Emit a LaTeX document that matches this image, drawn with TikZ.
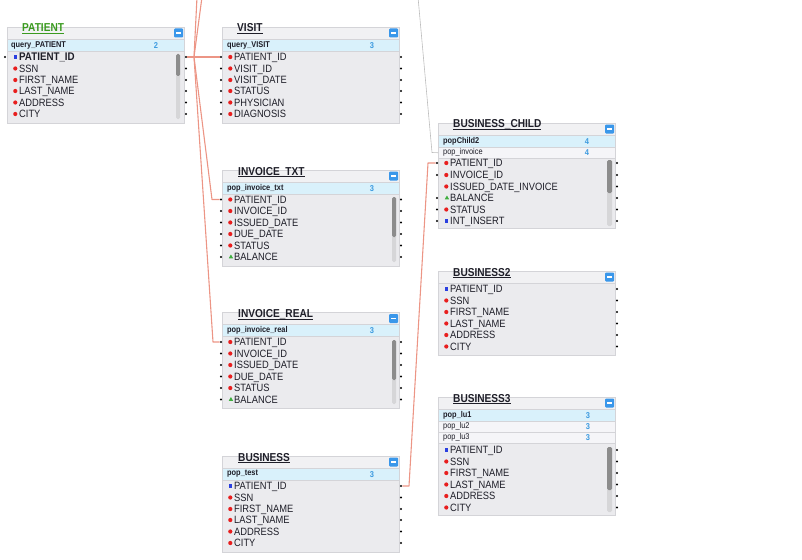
\documentclass[tikz,border=0pt]{standalone}
\usepackage{fontspec}
\setmainfont{Liberation Sans}[FakeStretch=0.88]
\usetikzlibrary{shapes.geometric}

\definecolor{boxline}{HTML}{D4D4D8}
\definecolor{bodybg}{HTML}{EBEBEE}
\definecolor{headbg}{HTML}{F1F1F3}
\definecolor{qblue}{HTML}{D9F1FB}
\definecolor{qwhite}{HTML}{F5F5F8}
\definecolor{txt}{HTML}{1E1E28}
\definecolor{cntblue}{HTML}{3D9BE0}
\definecolor{btnblue}{HTML}{3A97EA}
\definecolor{linkred}{HTML}{EC9585}
\definecolor{linkgray}{HTML}{BDBDBD}
\definecolor{dotred}{HTML}{E81E1E}
\definecolor{pkblue}{HTML}{2A3FE0}
\definecolor{trigreen}{HTML}{3FAE3F}
\definecolor{ptgreen}{HTML}{3A9A1F}
\definecolor{trackgray}{HTML}{D6D6D8}
\definecolor{thumbgray}{HTML}{8C8C8C}

\begin{document}
\begin{tikzpicture}[
	x=1pt, y=-1pt,
	tbl/.style={draw=boxline, fill=bodybg, rectangle, anchor=north west, minimum width=177pt, inner sep=0pt, line width=0.5pt},
	headrow/.style={draw=boxline, fill=headbg, rectangle, anchor=north west, minimum width=177pt, minimum height=12pt, inner sep=0pt, line width=0.5pt},
	qrow/.style={headrow, fill=qblue},
	qrow2/.style={headrow, fill=qwhite, minimum height=11pt},
	ttl/.style={anchor=west, inner sep=0pt, font=\fontsize{11.5}{13}\selectfont\bfseries, text=txt},
	qry/.style={anchor=west, inner sep=0pt, font=\fontsize{8.4}{10}\selectfont\bfseries, text=txt},
	qry2/.style={qry, font=\fontsize{8.4}{10}\selectfont},
	cnt/.style={inner sep=0pt, font=\fontsize{8.5}{10}\selectfont\bfseries, text=cntblue},
	btn/.style={fill=btnblue, rectangle, minimum width=9pt, minimum height=9pt, inner sep=0pt, rounded corners=1pt},
	fld/.style={anchor=west, inner sep=0pt, font=\fontsize{10.6}{12}\selectfont, text=txt, text height=7.6pt, text depth=0pt},
	rd/.style={fld, label={[reddot]left:{}}},
	pk/.style={fld, label={[pkmark]left:{}}},
	gr/.style={fld, label={[grmark]left:{}}},
	reddot/.style={circle, fill=dotred, minimum size=4.2pt, inner sep=0pt},
	pkmark/.style={rectangle, fill=pkblue, minimum size=3.8pt, inner sep=0pt},
	grmark/.style={regular polygon, regular polygon sides=3, fill=trigreen, minimum size=5pt, inner sep=0pt},
	jdot/.style={circle, fill=black, minimum size=2.2pt, inner sep=0pt},
	label distance=1.4pt
	]
	
	\useasboundingbox (0,0) rectangle (802,559);
	
	%-----------------------
	% PATIENT (top left)
	%-----------------------
	\node[tbl, minimum height=96pt] (patient) at (7,27) {};
	\node[headrow] (patientH) at (7,27) {};
	\node[qrow] (patientQ) at (7,39) {};
	\node[ttl, text=ptgreen] (patientT) at (22,33) {\underline{\smash{PATIENT}}};
	\node[btn] (patientB) at (178.5,33) {\textcolor{white}{\rule{5pt}{1.3pt}}};
	\node[qry] (patientQL) at (11,45) {query\_PATIENT};
	\node[cnt] (patientN) at (156,45.5) {2};
	\fill[trackgray, rounded corners=1.5pt] (176,54) rectangle (180,119);
	\fill[thumbgray, rounded corners=1.5pt] (176,54) rectangle (180,76);
	
	\node[pk, font=\fontsize{11.1}{13}\selectfont\bfseries] (P1) at (19,57) {PATIENT\_ID};
	\node[rd] (P2) at (19,68.5) {SSN};
	\node[rd] (P3) at (19,80) {FIRST\_NAME};
	\node[rd] (P4) at (19,91) {LAST\_NAME};
	\node[rd] (P5) at (19,102.5) {ADDRESS};
	\node[rd] (P6) at (19,114) {CITY};
	
	\node[jdot] (P1l) at (5,57) {};
	\node[jdot] (P1r) at (186,57) {};
	\node[jdot] (P2r) at (186,68.5) {};
	\node[jdot] (P3r) at (186,80) {};
	\node[jdot] (P4r) at (186,91) {};
	\node[jdot] (P5r) at (186,102.5) {};
	\node[jdot] (P6r) at (186,114) {};
	
	%-----------------------
	% VISIT
	%-----------------------
	\node[tbl, minimum height=96pt] (visit) at (222,27) {};
	\node[headrow] (visitH) at (222,27) {};
	\node[qrow] (visitQ) at (222,39) {};
	\node[ttl] (visitT) at (237,33) {\underline{\smash{VISIT}}};
	\node[btn] (visitB) at (393.5,33) {\textcolor{white}{\rule{5pt}{1.3pt}}};
	\node[qry] (visitQL) at (227,45) {query\_VISIT};
	\node[cnt] (visitN) at (372,45.5) {3};
	
	\node[rd] (V1) at (234,57) {PATIENT\_ID};
	\node[rd] (V2) at (234,68.5) {VISIT\_ID};
	\node[rd] (V3) at (234,80) {VISIT\_DATE};
	\node[rd] (V4) at (234,91) {STATUS};
	\node[rd] (V5) at (234,102.5) {PHYSICIAN};
	\node[rd] (V6) at (234,114) {DIAGNOSIS};
	
	\node[jdot] (V1l) at (221,57) {};
	\node[jdot] (V2l) at (221,68.5) {};
	\node[jdot] (V3l) at (221,80) {};
	\node[jdot] (V4l) at (221,91) {};
	\node[jdot] (V5l) at (221,102.5) {};
	\node[jdot] (V6l) at (221,114) {};
	\node[jdot] (V1r) at (401,57) {};
	\node[jdot] (V2r) at (401,68.5) {};
	\node[jdot] (V3r) at (401,80) {};
	\node[jdot] (V4r) at (401,91) {};
	\node[jdot] (V5r) at (401,102.5) {};
	\node[jdot] (V6r) at (401,114) {};
	
	%-----------------------
	% INVOICE_TXT
	%-----------------------
	\node[tbl, minimum height=96pt] (itxt) at (222,170) {};
	\node[headrow] (itxtH) at (222,170) {};
	\node[qrow] (itxtQ) at (222,182) {};
	\node[ttl] (itxtT) at (238,176) {\underline{\smash{INVOICE\_TXT}}};
	\node[btn] (itxtB) at (393.5,176) {\textcolor{white}{\rule{5pt}{1.3pt}}};
	\node[qry] (itxtQL) at (227,188) {pop\_invoice\_txt};
	\node[cnt] (itxtN) at (372,188.5) {3};
	\fill[trackgray, rounded corners=1.5pt] (392,197) rectangle (396,262);
	\fill[thumbgray, rounded corners=1.5pt] (392,197) rectangle (396,237);
	
	\node[rd] (IT1) at (234,199.5) {PATIENT\_ID};
	\node[rd] (IT2) at (234,211) {INVOICE\_ID};
	\node[rd] (IT3) at (234,222.5) {ISSUED\_DATE};
	\node[rd] (IT4) at (234,234) {DUE\_DATE};
	\node[rd] (IT5) at (234,245.5) {STATUS};
	\node[gr] (IT6) at (234,257) {BALANCE};
	
	\node[jdot] (IT1l) at (221,199.5) {};
	\node[jdot] (IT2l) at (221,211) {};
	\node[jdot] (IT3l) at (221,222.5) {};
	\node[jdot] (IT4l) at (221,234) {};
	\node[jdot] (IT5l) at (221,245.5) {};
	\node[jdot] (IT6l) at (221,257) {};
	\node[jdot] (IT1r) at (401,199.5) {};
	\node[jdot] (IT2r) at (401,211) {};
	\node[jdot] (IT3r) at (401,222.5) {};
	\node[jdot] (IT4r) at (401,234) {};
	\node[jdot] (IT5r) at (401,245.5) {};
	\node[jdot] (IT6r) at (401,257) {};
	
	%-----------------------
	% INVOICE_REAL
	%-----------------------
	\node[tbl, minimum height=96pt] (ireal) at (222,312) {};
	\node[headrow] (irealH) at (222,312) {};
	\node[qrow] (irealQ) at (222,324) {};
	\node[ttl] (irealT) at (238,318.5) {\underline{\smash{INVOICE\_REAL}}};
	\node[btn] (irealB) at (393.5,318.5) {\textcolor{white}{\rule{5pt}{1.3pt}}};
	\node[qry] (irealQL) at (227,330) {pop\_invoice\_real};
	\node[cnt] (irealN) at (372,331) {3};
	\fill[trackgray, rounded corners=1.5pt] (392,340) rectangle (396,404);
	\fill[thumbgray, rounded corners=1.5pt] (392,340) rectangle (396,380);
	
	\node[rd] (IR1) at (234,342) {PATIENT\_ID};
	\node[rd] (IR2) at (234,353.5) {INVOICE\_ID};
	\node[rd] (IR3) at (234,365) {ISSUED\_DATE};
	\node[rd] (IR4) at (234,376.5) {DUE\_DATE};
	\node[rd] (IR5) at (234,388) {STATUS};
	\node[gr] (IR6) at (234,399.5) {BALANCE};
	
	\node[jdot] (IR1l) at (221,342) {};
	\node[jdot] (IR2l) at (221,353.5) {};
	\node[jdot] (IR3l) at (221,365) {};
	\node[jdot] (IR4l) at (221,376.5) {};
	\node[jdot] (IR5l) at (221,388) {};
	\node[jdot] (IR6l) at (221,399.5) {};
	\node[jdot] (IR1r) at (401,342) {};
	\node[jdot] (IR2r) at (401,353.5) {};
	\node[jdot] (IR3r) at (401,365) {};
	\node[jdot] (IR4r) at (401,376.5) {};
	\node[jdot] (IR5r) at (401,388) {};
	\node[jdot] (IR6r) at (401,399.5) {};
	
	%-----------------------
	% BUSINESS (bottom)
	%-----------------------
	\node[tbl, minimum height=96pt] (bus) at (222,456) {};
	\node[headrow] (busH) at (222,456) {};
	\node[qrow] (busQ) at (222,468) {};
	\node[ttl] (busT) at (238,462) {\underline{\smash{BUSINESS}}};
	\node[btn] (busB) at (393.5,462) {\textcolor{white}{\rule{5pt}{1.3pt}}};
	\node[qry] (busQL) at (227,474) {pop\_test};
	\node[cnt] (busN) at (372,475) {3};
	
	\node[pk] (B1) at (234,486) {PATIENT\_ID};
	\node[rd] (B2) at (234,497.5) {SSN};
	\node[rd] (B3) at (234,509) {FIRST\_NAME};
	\node[rd] (B4) at (234,520) {LAST\_NAME};
	\node[rd] (B5) at (234,531.5) {ADDRESS};
	\node[rd] (B6) at (234,543) {CITY};
	
	\node[jdot] (B1r) at (401,486) {};
	\node[jdot] (B2r) at (401,497.5) {};
	\node[jdot] (B3r) at (401,509) {};
	\node[jdot] (B4r) at (401,520) {};
	\node[jdot] (B5r) at (401,531.5) {};
	\node[jdot] (B6r) at (401,543) {};
	
	%-----------------------
	% BUSINESS_CHILD
	%-----------------------
	\node[tbl, minimum height=105pt] (bchild) at (438,123) {};
	\node[headrow] (bchildH) at (438,123) {};
	\node[qrow] (bchildQ) at (438,135) {};
	\node[qrow2] (bchildQ2) at (438,147) {};
	\node[ttl] (bchildT) at (453,129) {\underline{\smash{BUSINESS\_CHILD}}};
	\node[btn] (bchildB) at (609.5,129) {\textcolor{white}{\rule{5pt}{1.3pt}}};
	\node[qry] (bchildQL) at (443,141) {popChild2};
	\node[cnt] (bchildN) at (587,141.5) {4};
	\node[qry2] (bchildQL2) at (443,152.5) {pop\_invoice};
	\node[cnt] (bchildN2) at (587,153) {4};
	\fill[trackgray, rounded corners=1.5pt] (607,160) rectangle (612,226);
	\fill[thumbgray, rounded corners=1.5pt] (607,160) rectangle (612,193);
	
	\node[rd] (BC1) at (450,163) {PATIENT\_ID};
	\node[rd] (BC2) at (450,175) {INVOICE\_ID};
	\node[rd] (BC3) at (450,186.5) {ISSUED\_DATE\_INVOICE};
	\node[gr] (BC4) at (450,198) {BALANCE};
	\node[rd] (BC5) at (450,209.5) {STATUS};
	\node[pk] (BC6) at (450,221) {INT\_INSERT};
	
	\node[jdot] (BC1l) at (437,163) {};
	\node[jdot] (BC2l) at (437,175) {};
	\node[jdot] (BC4l) at (437,198) {};
	\node[jdot] (BC5l) at (437,209.5) {};
	\node[jdot] (BC6l) at (437,221) {};
	\node[jdot] (BC1r) at (617,163) {};
	\node[jdot] (BC2r) at (617,175) {};
	\node[jdot] (BC3r) at (617,186.5) {};
	\node[jdot] (BC4r) at (617,198) {};
	\node[jdot] (BC5r) at (617,209.5) {};
	\node[jdot] (BC6r) at (617,221) {};
	
	%-----------------------
	% BUSINESS2
	%-----------------------
	\node[tbl, minimum height=84pt] (bus2) at (438,271) {};
	\node[headrow] (bus2H) at (438,271) {};
	\node[ttl] (bus2T) at (453,277) {\underline{\smash{BUSINESS2}}};
	\node[btn] (bus2B) at (609.5,277) {\textcolor{white}{\rule{5pt}{1.3pt}}};
	
	\node[pk] (BB1) at (450,289) {PATIENT\_ID};
	\node[rd] (BB2) at (450,300.5) {SSN};
	\node[rd] (BB3) at (450,312) {FIRST\_NAME};
	\node[rd] (BB4) at (450,323.5) {LAST\_NAME};
	\node[rd] (BB5) at (450,335) {ADDRESS};
	\node[rd] (BB6) at (450,346.5) {CITY};
	
	\node[jdot] (BB1r) at (617,289) {};
	\node[jdot] (BB2r) at (617,300.5) {};
	\node[jdot] (BB3r) at (617,312) {};
	\node[jdot] (BB4r) at (617,323.5) {};
	\node[jdot] (BB5r) at (617,335) {};
	\node[jdot] (BB6r) at (617,346.5) {};
	
	%-----------------------
	% BUSINESS3
	%-----------------------
	\node[tbl, minimum height=118pt] (bus3) at (438,397) {};
	\node[headrow] (bus3H) at (438,397) {};
	\node[qrow] (bus3Q) at (438,409) {};
	\node[qrow2] (bus3Q2) at (438,421) {};
	\node[qrow2] (bus3Q3) at (438,432) {};
	\node[ttl] (bus3T) at (453,403) {\underline{\smash{BUSINESS3}}};
	\node[btn] (bus3B) at (609.5,403) {\textcolor{white}{\rule{5pt}{1.3pt}}};
	\node[qry] (bus3QL) at (443,415) {pop\_lu1};
	\node[cnt] (bus3N) at (588,415.5) {3};
	\node[qry2] (bus3QL2) at (443,426.5) {pop\_lu2};
	\node[cnt] (bus3N2) at (588,427) {3};
	\node[qry2] (bus3QL3) at (443,437.5) {pop\_lu3};
	\node[cnt] (bus3N3) at (588,438) {3};
	\fill[trackgray, rounded corners=1.5pt] (607,447) rectangle (612,512);
	\fill[thumbgray, rounded corners=1.5pt] (607,447) rectangle (612,490);
	
	\node[pk] (BT1) at (450,450) {PATIENT\_ID};
	\node[rd] (BT2) at (450,461.5) {SSN};
	\node[rd] (BT3) at (450,473) {FIRST\_NAME};
	\node[rd] (BT4) at (450,484.5) {LAST\_NAME};
	\node[rd] (BT5) at (450,496) {ADDRESS};
	\node[rd] (BT6) at (450,507.5) {CITY};
	
	\node[jdot] (BT1r) at (617,450) {};
	\node[jdot] (BT2r) at (617,461.5) {};
	\node[jdot] (BT3r) at (617,473) {};
	\node[jdot] (BT4r) at (617,484.5) {};
	\node[jdot] (BT5r) at (617,496) {};
	\node[jdot] (BT6r) at (617,507.5) {};
	
	%-----------------------
	% Links (bend points)
	%-----------------------
	\tikzset{connect/.style={draw=linkred, line width=1.1pt, line join=round}}
	\tikzset{graylink/.style={draw=linkgray, line width=0.6pt}}
	
	\coordinate (hub)   at (194,57);
	\coordinate (upA)   at (197,-3);
	\coordinate (upB)   at (202,-3);
	\coordinate (bendT) at (212,199.5);
	\coordinate (bendR) at (213,342);
	\coordinate (bendB) at (409,486);
	\coordinate (bendC) at (428,163);
	\coordinate (upC)   at (418,-3);
	\coordinate (bendG) at (432,152.5);
	
	% PATIENT_ID -> VISIT and invoices
	\draw[connect] (P1r) -- (V1l);
	\draw[connect] (P1r) -- (hub) -- (bendT) -- (IT1l);
	\draw[connect] (P1r) -- (hub) -- (bendR) -- (IR1l);
	
	% off-screen tables above
	\draw[connect] (hub) -- (upA);
	\draw[connect] (hub) -- (upB);
	\draw[graylink] (upC) -- (bendG) -- (bchildQ2.west);
	
	% BUSINESS -> BUSINESS_CHILD
	\draw[connect] (B1r) -- (bendB) -- (bendC) -- (BC1l);
	
\end{tikzpicture}
\end{document}
